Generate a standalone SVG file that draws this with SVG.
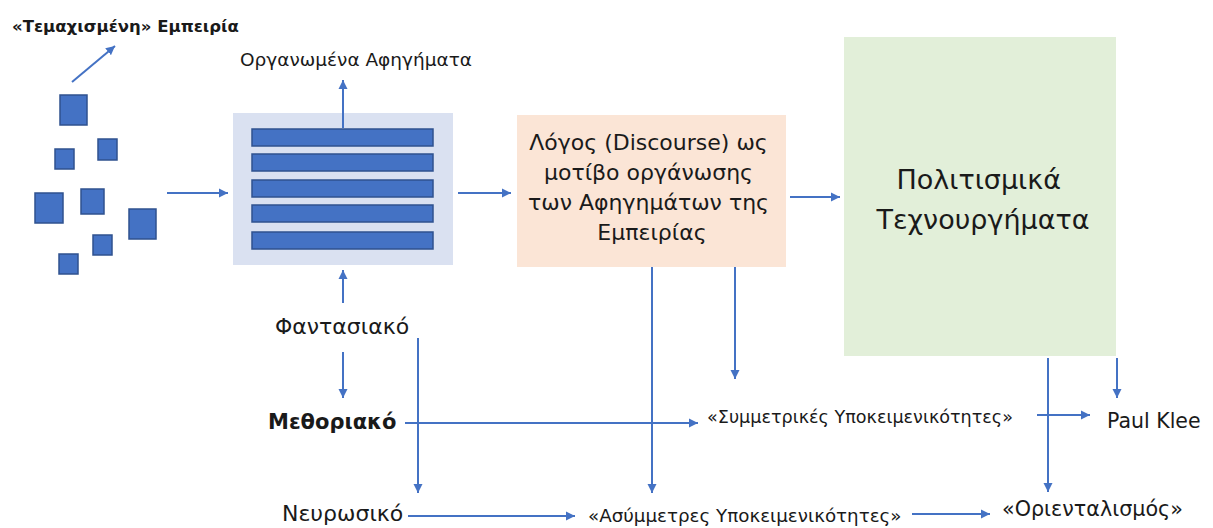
<svg xmlns="http://www.w3.org/2000/svg" width="1213" height="528" viewBox="0 0 1213 528">
<defs>
<style>
.t{font-family:"DejaVu Sans","Noto Sans",sans-serif;fill:#1a1a1a}
.c line{stroke:#4472C4;stroke-width:2;fill:none;marker-end:url(#ah)}
.sq{fill:#4472C4;stroke:#2F528F;stroke-width:1.5}
</style>
<marker id="ah" markerUnits="userSpaceOnUse" markerWidth="10" markerHeight="10" refX="9" refY="5" orient="auto">
<path d="M0,0.5 L9,5 L0,9.5 z" fill="#4472C4"/>
</marker>
</defs>
<rect width="1213" height="528" fill="#fff"/>

<g id="fragmented">
<rect class="sq" x="60" y="95" width="27" height="30"/>
<rect class="sq" x="55" y="149" width="19" height="20"/>
<rect class="sq" x="98" y="139" width="19" height="21"/>
<rect class="sq" x="35" y="193" width="28" height="30"/>
<rect class="sq" x="81" y="189" width="23" height="25"/>
<rect class="sq" x="129" y="209" width="27" height="30"/>
<rect class="sq" x="93" y="235" width="19" height="20"/>
<rect class="sq" x="59" y="254" width="19" height="20"/>
<text class="t" x="12" y="32" font-size="16.5" font-weight="bold">«Τεμαχισμένη» Εμπειρία</text>
</g>

<g id="organized">
<rect x="233" y="113" width="220" height="152" fill="#DAE1F1"/>
<rect class="sq" x="252" y="129" width="181" height="17"/>
<rect class="sq" x="252" y="154" width="181" height="17"/>
<rect class="sq" x="252" y="180" width="181" height="17"/>
<rect class="sq" x="252" y="205" width="181" height="17"/>
<rect class="sq" x="252" y="232" width="181" height="17"/>
<text class="t" x="240" y="66" font-size="18.5">Οργανωμένα Αφηγήματα</text>
</g>

<g id="discourse">
<rect x="517" y="115" width="269" height="152" fill="#FBE5D6"/>
<text class="t" font-size="22" text-anchor="middle">
<tspan x="652" y="150">Λόγος (Discourse) ως</tspan>
<tspan x="652" y="180">μοτίβο οργάνωσης</tspan>
<tspan x="652" y="210">των Αφηγημάτων της</tspan>
<tspan x="652" y="240">Εμπειρίας</tspan>
</text>
</g>

<g id="artifacts">
<rect x="844" y="37" width="272" height="319" fill="#E2EFD9"/>
<text class="t" font-size="27" text-anchor="middle">
<tspan x="983" y="189">Πολιτισμικά</tspan>
<tspan x="983" y="229">Τεχνουργήματα</tspan>
</text>
</g>

<g id="imaginary"><text class="t" x="275" y="334" font-size="22">Φαντασιακό</text></g>
<g id="liminal"><text class="t" x="268" y="429" font-size="21" font-weight="bold">Μεθοριακό</text></g>
<g id="neurotic"><text class="t" x="282" y="521" font-size="22">Νευρωσικό</text></g>
<g id="symmetric"><text class="t" x="707" y="423" font-size="17.6">«Συμμετρικές Υποκειμενικότητες»</text></g>
<g id="asymmetric"><text class="t" x="588" y="522" font-size="18.3">«Ασύμμετρες Υποκειμενικότητες»</text></g>
<g id="klee"><text class="t" x="1107" y="428" font-size="20.5">Paul Klee</text></g>
<g id="orientalism"><text class="t" x="1002" y="516" font-size="20.7">«Οριενταλισμός»</text></g>

<g id="connectors" class="c">
<line x1="72" y1="82" x2="115" y2="46"/>
<line x1="167" y1="193" x2="228" y2="193"/>
<line x1="343" y1="128" x2="343" y2="80"/>
<line x1="458" y1="193" x2="511" y2="193"/>
<line x1="790" y1="197" x2="840" y2="197"/>
<line x1="343" y1="303" x2="343" y2="270"/>
<line x1="343" y1="352" x2="343" y2="398"/>
<line x1="405" y1="423" x2="698" y2="423"/>
<line x1="418" y1="338" x2="418" y2="493"/>
<line x1="652" y1="267" x2="652" y2="493"/>
<line x1="735" y1="267" x2="735" y2="379"/>
<line x1="408" y1="516" x2="575" y2="516"/>
<line x1="912" y1="514" x2="990" y2="514"/>
<line x1="1048" y1="358" x2="1048" y2="492"/>
<line x1="1117" y1="358" x2="1117" y2="398"/>
<line x1="1037" y1="415" x2="1090" y2="415"/>
</g>
</svg>
